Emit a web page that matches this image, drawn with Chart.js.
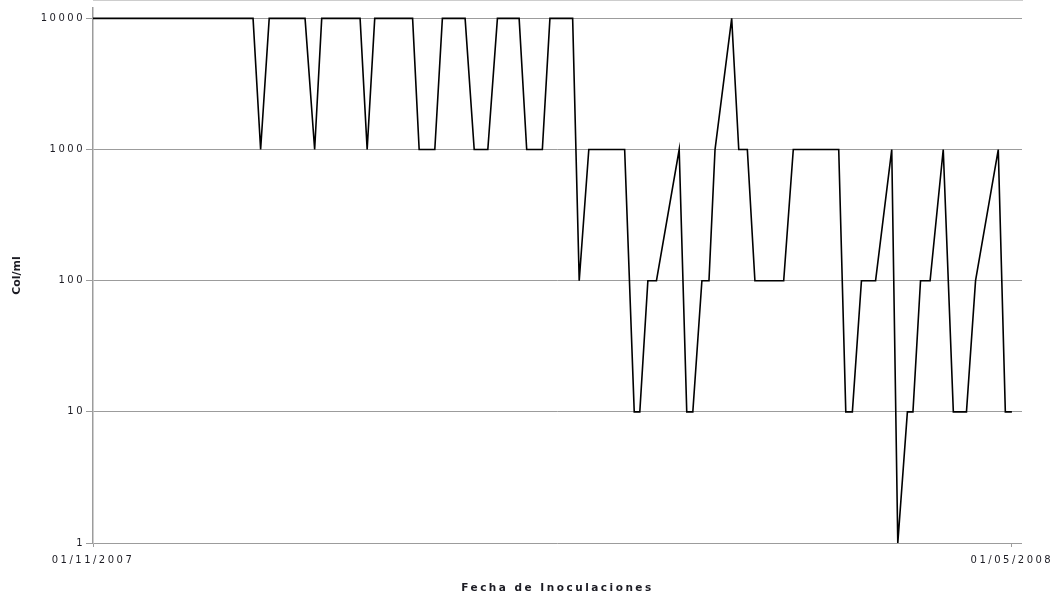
<!DOCTYPE html>
<html>
<head>
<meta charset="utf-8">
<script src="https://cdn.jsdelivr.net/npm/chart.js@4/dist/chart.umd.min.js"></script>
<style>
    html, body { margin: 0; padding: 0; background: #fff; }
    #wrap { width: 1062px; height: 598px; position: relative; }
</style>
</head>
<body>
<div id="wrap"><canvas id="chart"></canvas></div>
<script>
// days counted from 01/11/2007
const days = [
    0, 31.7, 33.2, 34.9, 42.0, 43.9, 45.3, 52.9, 54.3, 55.8,
    63.3, 64.6, 67.7, 69.2, 73.7, 75.5, 78.2, 80.1, 84.4, 85.9,
    89.0, 90.5, 95.0, 96.3, 98.2, 105.3, 107.2, 108.3, 109.9, 111.6,
    116.1, 117.6, 118.8, 120.6, 122.0, 123.2, 126.5, 127.9, 129.6, 131.1,
    136.8, 138.7, 147.7, 149.1, 150.4, 152.2, 155.0, 158.2, 159.4, 161.3,
    162.4, 163.9, 165.8, 168.4, 170.4, 173.0, 174.8, 179.3, 180.7, 182.0,
];

// Col/ml
const colonias = [
    10000, 10000, 1000, 10000, 10000, 1000, 10000, 10000, 1000, 10000,
    10000, 1000, 1000, 10000, 10000, 1000, 1000, 10000, 10000, 1000,
    1000, 10000, 10000, 100, 1000, 1000, 10, 10, 100, 100,
    1000, 10, 10, 100, 100, 1000, 10000, 1000, 1000, 100,
    100, 1000, 1000, 10, 10, 100, 100, 1000, 1, 10,
    10, 100, 100, 1000, 10, 10, 100, 1000, 10, 10,
];

const yTicks = [1, 10, 100, 1000, 10000];
const xTicks = [0, 182]; // 01/11/2007, 01/05/2008

const fmtDate = (d) => {
    const dt = new Date(2007, 10, 1 + d);
    const p = (n) => String(n).padStart(2, '0');
    return `${p(dt.getDate())}/${p(dt.getMonth() + 1)}/${dt.getFullYear()}`;
};

const GRID = '#9c9c9c';
const TXT = '#1c1c24';

// the reference text is drawn wide, so spread the horizontal labels
const wideText = {
    id: 'wideText',
    beforeDraw: (chart) => { chart.ctx.letterSpacing = '0px'; },
    afterDatasetsDraw: (chart) => { chart.ctx.letterSpacing = '2.5px'; },
    afterDraw: (chart) => { chart.ctx.letterSpacing = '0px'; },
};

new Chart(document.getElementById('chart'), {
    type: 'line',
    data: {
        datasets: [{
            label: 'Col/ml',
            data: days.map((d, i) => ({ x: d, y: colonias[i] })),
            borderColor: '#000',
            borderWidth: 1.6,
            pointRadius: 0,
            tension: 0,
            fill: false,
            clip: 4,
        }],
    },
    options: {
        responsive: true,
        maintainAspectRatio: false,
        animation: false,
        layout: { padding: { top: 8, right: 40, left: 0, bottom: 0 } },
        plugins: {
            legend: { display: false },
            tooltip: { enabled: false },
        },
        scales: {
            x: {
                type: 'linear',
                min: 0,
                max: 184,
                afterBuildTicks: (s) => { s.ticks = xTicks.map((v) => ({ value: v })); },
                afterFit: (s) => { s.height = 55; },
                grid: { drawOnChartArea: false, drawTicks: true, tickLength: 4, color: GRID, z: 1 },
                border: { color: GRID, width: 1 },
                ticks: {
                    z: 1,
                    autoSkip: false,
                    maxRotation: 0,
                    padding: 7,
                    color: TXT,
                    font: { family: 'DejaVu Sans', size: 10 },
                    callback: (v) => fmtDate(v),
                },
                title: {
                    display: true,
                    text: 'Fecha de Inoculaciones',
                    color: TXT,
                    font: { family: 'DejaVu Sans', size: 10.5, weight: 'bold' },
                    padding: { top: 0, bottom: 3 },
                },
            },
            y: {
                type: 'logarithmic',
                min: 1,
                max: 12000,
                afterBuildTicks: (s) => { s.ticks = yTicks.map((v) => ({ value: v })); },
                afterFit: (s) => { s.width = 93; },
                grid: { color: GRID, lineWidth: 1, tickLength: 7 },
                border: { color: GRID, width: 1.5 },
                ticks: {
                    z: 1,
                    padding: 1,
                    color: TXT,
                    font: { family: 'DejaVu Sans', size: 10 },
                    callback: (v) => String(v),
                },
                title: {
                    display: true,
                    text: 'Col/ml',
                    color: TXT,
                    font: { family: 'DejaVu Sans', size: 11, weight: 'bold' },
                    padding: { top: 11, bottom: 0 },
                },
            },
        },
    },
    plugins: [wideText],
});
</script>
</body>
</html>
